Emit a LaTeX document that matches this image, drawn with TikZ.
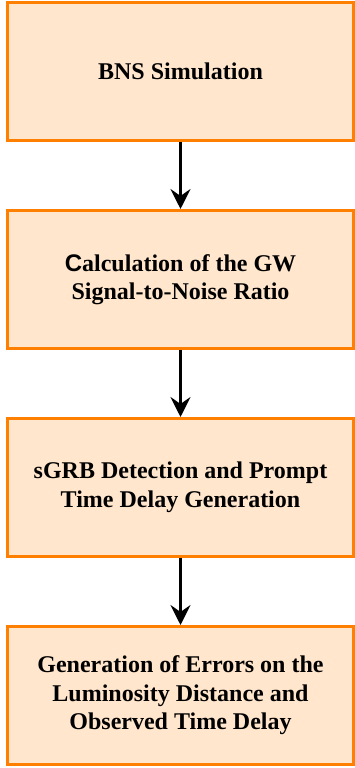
\documentclass[tikz,border=0pt]{standalone}
\usepackage{fontspec}
\setmainfont{Liberation Serif}
\newfontfamily\capfont{Liberation Sans}
\usetikzlibrary{positioning,arrows.meta}
\definecolor{boxfill}{HTML}{FFE6CC}
\definecolor{boxline}{HTML}{FF8000}

\begin{document}
\begin{tikzpicture}[x=1pt,y=1pt,
  stage/.style={draw=boxline,fill=boxfill,line width=3pt,minimum width=346pt,minimum height=138pt,
    align=center,font=\fontsize{24}{28.5}\selectfont\bfseries},
  flow/.style={-{Stealth[length=20pt,width=20pt,inset=7pt]},line width=2.5pt},
  node distance=67pt]
  \useasboundingbox (0,0) rectangle (355,768);
  \node[stage] (sim) at (180.5,696.5) {BNS Simulation};
  \node[stage,below=of sim] (snr) {{\capfont C}alculation of the GW\\Signal-to-Noise Ratio};
  \node[stage,below=of snr] (grb) {sGRB Detection and Prompt\\Time Delay Generation};
  \node[stage,below=of grb] (err) {Generation of Errors on the\\Luminosity Distance and\\Observed Time Delay};
  \draw[flow] (sim) -- (snr);
  \draw[flow] (snr) -- (grb);
  \draw[flow] (grb) -- (err);
\end{tikzpicture}
\end{document}
